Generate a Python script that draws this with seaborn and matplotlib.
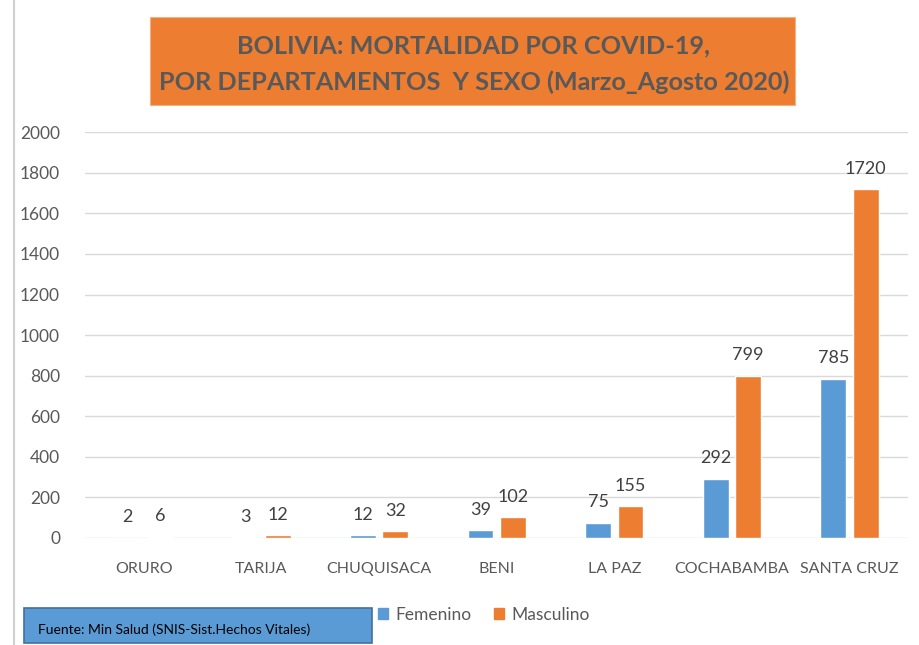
import pandas as pd
import matplotlib
matplotlib.use('Agg')
import matplotlib.pyplot as plt
import seaborn as sns
from matplotlib.patches import Rectangle
from matplotlib.lines import Line2D

# ── Data ─────────────────────────────────────────────────────────────────────
DEPARTAMENTOS = ['ORURO', 'TARIJA', 'CHUQUISACA', 'BENI', 'LA PAZ',
                 'COCHABAMBA', 'SANTA CRUZ']
FEMENINO  = [2, 3, 12, 39, 75, 292, 785]
MASCULINO = [6, 12, 32, 102, 155, 799, 1720]
SEXOS     = ['Femenino', 'Masculino']
Y_TICKS   = list(range(0, 2001, 200))

TITLE  = "BOLIVIA: MORTALIDAD POR COVID-19,\nPOR DEPARTAMENTOS  Y SEXO (Marzo_Agosto 2020)"
FUENTE = "Fuente: Min Salud (SNIS-Sist.Hechos Vitales)"

# ── Palette ──────────────────────────────────────────────────────────────────
BLUE   = "#5B9BD5"
ORANGE = "#ED7D31"
GREY   = "#595959"
GRID   = "#D9D9D9"

df = pd.DataFrame({
    'Departamento': DEPARTAMENTOS * 2,
    'Sexo': [SEXOS[0]] * len(DEPARTAMENTOS) + [SEXOS[1]] * len(DEPARTAMENTOS),
    'Muertes': FEMENINO + MASCULINO,
})

sns.set_style('white')
plt.rcParams['font.family'] = ['Lato', 'DejaVu Sans']

fig = plt.figure(figsize=(9.2, 6.45), dpi=100)
ax = fig.add_axes([0.0924, 0.166, 0.895, 0.629])

sns.barplot(data=df, x='Departamento', y='Muertes', hue='Sexo',
            palette=[BLUE, ORANGE], width=0.55, gap=0.2, ax=ax,
            legend=False, saturation=1)

ax.set_ylim(0, 2000)
ax.set_yticks(Y_TICKS)
ax.set_xlim(-0.5, len(DEPARTAMENTOS) - 0.5)
ax.grid(axis='y', color=GRID, linewidth=1)
ax.set_axisbelow(True)
for s in ax.spines.values():
    s.set_visible(False)
ax.set_xlabel('')
ax.set_ylabel('')
ax.tick_params(axis='both', length=0, labelcolor=GREY)
ax.tick_params(axis='x', pad=17, labelsize=11.5)
ax.tick_params(axis='y', pad=18, labelsize=12.5)

for cont in ax.containers:
    ax.bar_label(cont, padding=9, fontsize=13, color='#404040')

# title box
fig.patches.append(Rectangle((150 / 920, 1 - 105 / 645), 645 / 920, 88 / 645,
                             transform=fig.transFigure, facecolor=ORANGE,
                             edgecolor='#F4B183', linewidth=0.8))
fig.text(474 / 920, 1 - 64 / 645, TITLE, ha='center', va='center',
         fontsize=18.2, fontweight='bold', color=GREY, linespacing=1.65)

# left border line
fig.lines.append(Line2D([14 / 920, 14 / 920], [0, 1], transform=fig.transFigure,
                        color='#D0D0D0', linewidth=1.5))

# source box
fig.patches.append(Rectangle((24 / 920, 1 - 643 / 645), 348 / 920, 35 / 645,
                             transform=fig.transFigure, facecolor=BLUE,
                             edgecolor='#41719C', linewidth=1.2))
fig.text(38 / 920, 1 - 630 / 645, FUENTE, ha='left', va='center',
         fontsize=10, color='black')

# legend
handles = [Rectangle((0, 0), 1, 1, color=c) for c in (BLUE, ORANGE)]
fig.legend(handles, SEXOS, loc='center left', bbox_to_anchor=(362 / 920, 1 - 615 / 645),
           ncol=2, frameon=False, fontsize=12.5, handlelength=0.6, handleheight=0.6,
           handletextpad=0.4, columnspacing=1.3, labelcolor=GREY)

fig.savefig('out.png', dpi=100, facecolor='white')
